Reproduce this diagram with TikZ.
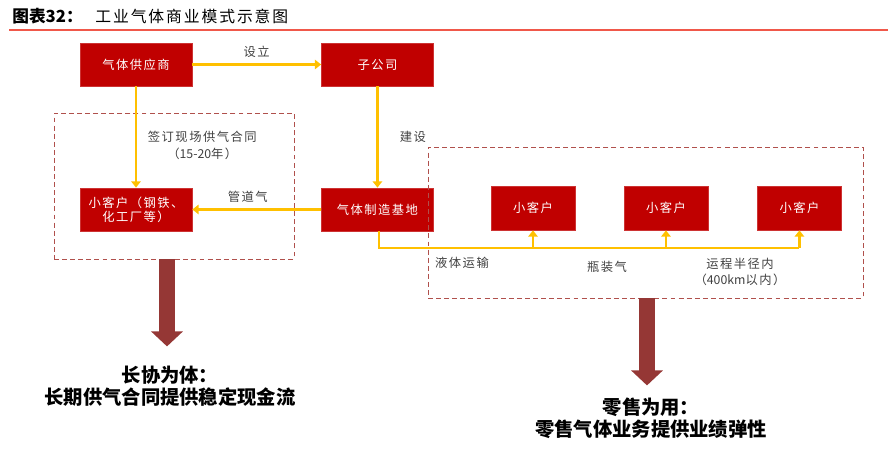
\documentclass[tikz,border=0pt]{standalone}
\usepackage{fontspec}
\setmainfont{Noto Sans CJK SC}
\newfontfamily\spaced[LetterSpace=12]{Noto Sans CJK SC}
\newfontfamily\titlefont[LetterSpace=12]{Noto Sans CJK SC}
\newfontfamily\plain{Noto Sans CJK SC}
\usetikzlibrary{arrows.meta, positioning}
\definecolor{boxred}{HTML}{C00000}
\definecolor{flowyel}{HTML}{FFC000}
\definecolor{dashred}{HTML}{B0504C}
\definecolor{bigred}{HTML}{953735}
\definecolor{titlered}{HTML}{F0584A}
\tikzstyle{block}=[fill=boxred,draw=boxred!80,rectangle,minimum width=2.24cm,minimum height=0.86cm,inner sep=0pt,align=center,text=white,font=\spaced\fontsize{7}{8}\selectfont]
\tikzstyle{smallblock}=[block,minimum width=1.68cm,minimum height=0.88cm]
\tikzstyle{yline}=[draw=flowyel,line width=1.6pt]
\tikzstyle{flow}=[yline,-{Triangle[length=3.6pt,width=5.4pt]}]
\tikzstyle{lbl}=[font=\spaced\fontsize{7}{9.5}\selectfont,text=black!75,align=center,inner sep=1pt]
\tikzstyle{zone}=[draw=dashred,line width=0.5pt,dash pattern=on 2.8pt off 1.8pt,rectangle,inner sep=0pt]
\tikzstyle{bigarrow}=[draw=bigred,line width=0.31cm,-{Triangle[length=0.3cm,width=0.62cm]}]
\tikzstyle{concl}=[font=\bfseries\fontsize{11}{12.6}\selectfont,align=center]

\begin{document}
\begin{tikzpicture}[x=0.02cm,y=-0.02cm]
    \useasboundingbox (0,0) rectangle (893,450);
    % title
    \node[anchor=west,inner sep=0pt,font=\bfseries\fontsize{9.5}{10}\selectfont] (fig) at (12,16) {图表32：};
    \node[anchor=west,inner sep=0pt,font=\titlefont\fontsize{9}{10}\selectfont] (title) at (95,16) {工业气体商业模式示意图};
    \draw[titlered,line width=1.3pt] (9,30) -- (888,30);
    % boxes
    \node[block] (supplier) at (136,64.5) {气体供应商};
    \node[block, right of=supplier, node distance=4.83cm] (subsid) {子公司};
    \node[block, below of=supplier, node distance=2.9cm] (bigcust) {小客户（钢铁、\\化工厂等）};
    \node[block, below of=subsid, node distance=2.9cm] (plant) {气体制造基地};
    \node[smallblock] (cust1) at (533,208) {小客户};
    \node[smallblock, right of=cust1, node distance=2.66cm] (cust2) {小客户};
    \node[smallblock, right of=cust2, node distance=2.67cm] (cust3) {小客户};
    % dashed zones
    \node[zone, minimum width=4.8cm, minimum height=2.92cm] (zoneL) at (174,186) {};
    \node[zone, minimum width=8.7cm, minimum height=3.02cm] (zoneR) at (645.5,222.5) {};
    % flows
    \draw[flow] (supplier) -- node[lbl, above=2pt] {设立} (subsid);
    \draw[flow] (supplier) -- node[lbl, right=5pt, pos=0.58] {签订现场供气合同\\（{\plain 15-20}年）} (bigcust);
    \draw[flow] (subsid) -- node[lbl, right=11pt, pos=0.5] {建设} (plant);
    \draw[flow] (plant) -- node[lbl, above=2pt, pos=0.57] {管道气} (bigcust);
    \coordinate (bus) at (0,248);
    \draw[yline] ([xshift=0.03cm]plant.south) |- (bus -| cust3);
    \foreach \c in {cust1,cust2,cust3}
        \draw[flow] (bus -| \c) -- (\c.south);
    \node[lbl] (liquid) at (462,263) {液体运输};
    \node[lbl] (bottled) at (607,267) {瓶装气};
    \node[lbl] (radius) at (740,272) {运程半径内\\（{\plain 400km}以内）};
    % conclusions
    \draw[bigarrow] ([xshift=-0.14cm]zoneL.south) -- ++(0,-1.74cm);
    \draw[bigarrow] ([xshift=0.03cm]zoneR.south) -- ++(0,-1.74cm);
    \node[concl] (longterm) at (170,386) {长协为体：\\长期供气合同提供稳定现金流};
    \node[concl] (retail) at (651,418) {零售为用：\\零售气体业务提供业绩弹性};
\end{tikzpicture}
\end{document}
